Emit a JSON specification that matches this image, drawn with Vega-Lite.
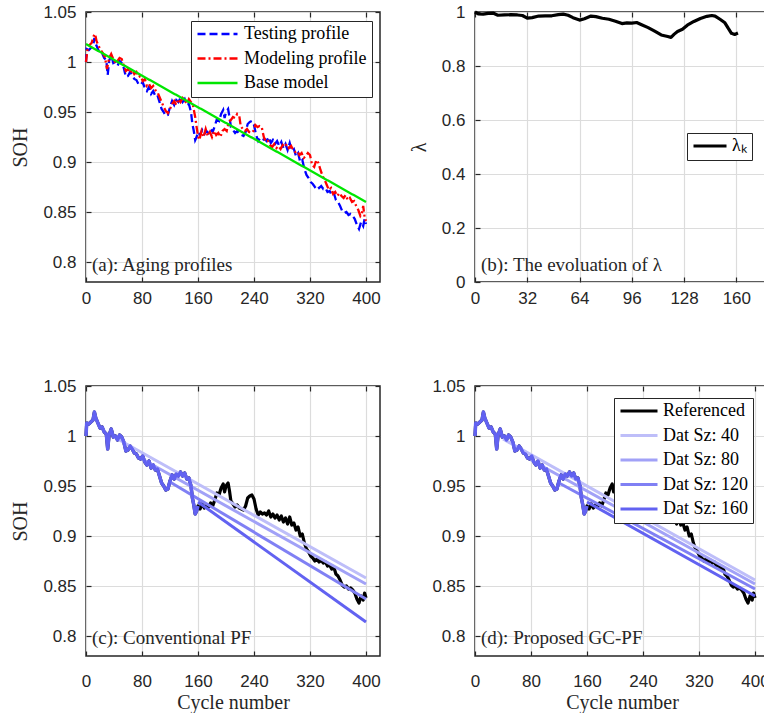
{
"$schema": "https://vega.github.io/schema/vega-lite/v6.json",
"padding": {"left": 10, "top": 2, "right": 0, "bottom": 0},
"background": "white",
"config": {
 "font": "Liberation Serif",
 "view": {"stroke": "#262626", "strokeWidth": 1.5},
 "axis": {"domain": false, "labelFont": "Liberation Sans", "labelFontSize": 17, "labelColor": "#262626", "titleFont": "Liberation Serif", "titleFontSize": 20, "titleFontWeight": "normal", "titleColor": "#262626", "gridColor": "#DCDCDC", "gridWidth": 1.2, "tickColor": "#262626", "tickSize": -5, "tickWidth": 1.2, "labelFlush": false, "labelOverlap": false},
 "axisX": {"labelPadding": 13, "titlePadding": 4},
 "axisY": {"labelPadding": 15, "titlePadding": 12},
 "legend": {"labelFont": "Liberation Serif", "labelFontSize": 18, "labelColor": "#000000", "strokeColor": "#262626", "fillColor": "#FFFFFF", "padding": 5, "rowPadding": 6.5, "clipHeight": 16, "symbolStrokeWidth": 3, "labelLimit": 300, "symbolType": "stroke"}
},
"resolve": {
 "scale": {"color": "independent", "strokeDash": "independent", "strokeWidth": "independent"},
 "legend": {"color": "independent", "strokeDash": "independent", "strokeWidth": "independent"}
},
"datasets": {
 "a": [
  {"cycle":0,"soh":1.000,"series":"Testing profile"},{"cycle":1,"soh":1.013,"series":"Testing profile"},{"cycle":4,"soh":1.012,"series":"Testing profile"},{"cycle":7,"soh":1.014,"series":"Testing profile"},{"cycle":10,"soh":1.016,"series":"Testing profile"},{"cycle":12,"soh":1.024,"series":"Testing profile"},{"cycle":14,"soh":1.018,"series":"Testing profile"},{"cycle":17,"soh":1.013,"series":"Testing profile"},{"cycle":20,"soh":1.008,"series":"Testing profile"},{"cycle":23,"soh":1.009,"series":"Testing profile"},{"cycle":26,"soh":1.004,"series":"Testing profile"},{"cycle":29,"soh":1.002,"series":"Testing profile"},{"cycle":31,"soh":0.987,"series":"Testing profile"},{"cycle":33,"soh":1.001,"series":"Testing profile"},{"cycle":36,"soh":1.007,"series":"Testing profile"},{"cycle":39,"soh":0.999,"series":"Testing profile"},{"cycle":42,"soh":1.000,"series":"Testing profile"},{"cycle":45,"soh":0.996,"series":"Testing profile"},{"cycle":48,"soh":1.001,"series":"Testing profile"},{"cycle":51,"soh":0.999,"series":"Testing profile"},{"cycle":54,"soh":0.994,"series":"Testing profile"},{"cycle":57,"soh":0.985,"series":"Testing profile"},{"cycle":60,"soh":0.986,"series":"Testing profile"},{"cycle":63,"soh":0.990,"series":"Testing profile"},{"cycle":66,"soh":0.987,"series":"Testing profile"},{"cycle":69,"soh":0.983,"series":"Testing profile"},{"cycle":72,"soh":0.982,"series":"Testing profile"},{"cycle":75,"soh":0.978,"series":"Testing profile"},{"cycle":78,"soh":0.977,"series":"Testing profile"},{"cycle":81,"soh":0.980,"series":"Testing profile"},{"cycle":84,"soh":0.974,"series":"Testing profile"},{"cycle":87,"soh":0.971,"series":"Testing profile"},{"cycle":90,"soh":0.975,"series":"Testing profile"},{"cycle":93,"soh":0.968,"series":"Testing profile"},{"cycle":96,"soh":0.971,"series":"Testing profile"},{"cycle":99,"soh":0.966,"series":"Testing profile"},{"cycle":102,"soh":0.967,"series":"Testing profile"},{"cycle":105,"soh":0.960,"series":"Testing profile"},{"cycle":108,"soh":0.953,"series":"Testing profile"},{"cycle":111,"soh":0.950,"series":"Testing profile"},{"cycle":114,"soh":0.946,"series":"Testing profile"},{"cycle":117,"soh":0.947,"series":"Testing profile"},{"cycle":120,"soh":0.955,"series":"Testing profile"},{"cycle":123,"soh":0.961,"series":"Testing profile"},{"cycle":126,"soh":0.957,"series":"Testing profile"},{"cycle":129,"soh":0.962,"series":"Testing profile"},{"cycle":132,"soh":0.960,"series":"Testing profile"},{"cycle":135,"soh":0.964,"series":"Testing profile"},{"cycle":138,"soh":0.960,"series":"Testing profile"},{"cycle":141,"soh":0.963,"series":"Testing profile"},{"cycle":144,"soh":0.957,"series":"Testing profile"},{"cycle":147,"soh":0.958,"series":"Testing profile"},{"cycle":150,"soh":0.950,"series":"Testing profile"},{"cycle":152,"soh":0.938,"series":"Testing profile"},{"cycle":154,"soh":0.931,"series":"Testing profile"},{"cycle":156,"soh":0.922,"series":"Testing profile"},{"cycle":158,"soh":0.925,"series":"Testing profile"},{"cycle":160,"soh":0.930,"series":"Testing profile"},{"cycle":163,"soh":0.927,"series":"Testing profile"},{"cycle":166,"soh":0.932,"series":"Testing profile"},{"cycle":169,"soh":0.928,"series":"Testing profile"},{"cycle":172,"soh":0.931,"series":"Testing profile"},{"cycle":175,"soh":0.929,"series":"Testing profile"},{"cycle":178,"soh":0.933,"series":"Testing profile"},{"cycle":181,"soh":0.930,"series":"Testing profile"},{"cycle":184,"soh":0.936,"series":"Testing profile"},{"cycle":187,"soh":0.943,"series":"Testing profile"},{"cycle":190,"soh":0.941,"series":"Testing profile"},{"cycle":193,"soh":0.948,"series":"Testing profile"},{"cycle":196,"soh":0.952,"series":"Testing profile"},{"cycle":198,"soh":0.944,"series":"Testing profile"},{"cycle":200,"soh":0.950,"series":"Testing profile"},{"cycle":203,"soh":0.953,"series":"Testing profile"},{"cycle":205,"soh":0.945,"series":"Testing profile"},{"cycle":207,"soh":0.935,"series":"Testing profile"},{"cycle":210,"soh":0.932,"series":"Testing profile"},{"cycle":213,"soh":0.929,"series":"Testing profile"},{"cycle":216,"soh":0.931,"series":"Testing profile"},{"cycle":219,"soh":0.928,"series":"Testing profile"},{"cycle":222,"soh":0.927,"series":"Testing profile"},{"cycle":225,"soh":0.926,"series":"Testing profile"},{"cycle":228,"soh":0.930,"series":"Testing profile"},{"cycle":231,"soh":0.938,"series":"Testing profile"},{"cycle":234,"soh":0.940,"series":"Testing profile"},{"cycle":237,"soh":0.941,"series":"Testing profile"},{"cycle":240,"soh":0.937,"series":"Testing profile"},{"cycle":243,"soh":0.927,"series":"Testing profile"},{"cycle":246,"soh":0.921,"series":"Testing profile"},{"cycle":249,"soh":0.924,"series":"Testing profile"},{"cycle":252,"soh":0.922,"series":"Testing profile"},{"cycle":255,"soh":0.923,"series":"Testing profile"},{"cycle":258,"soh":0.921,"series":"Testing profile"},{"cycle":261,"soh":0.925,"series":"Testing profile"},{"cycle":264,"soh":0.919,"series":"Testing profile"},{"cycle":267,"soh":0.922,"series":"Testing profile"},{"cycle":270,"soh":0.918,"series":"Testing profile"},{"cycle":273,"soh":0.921,"series":"Testing profile"},{"cycle":276,"soh":0.916,"series":"Testing profile"},{"cycle":279,"soh":0.920,"series":"Testing profile"},{"cycle":282,"soh":0.914,"series":"Testing profile"},{"cycle":285,"soh":0.918,"series":"Testing profile"},{"cycle":288,"soh":0.912,"series":"Testing profile"},{"cycle":291,"soh":0.919,"series":"Testing profile"},{"cycle":294,"soh":0.911,"series":"Testing profile"},{"cycle":297,"soh":0.913,"series":"Testing profile"},{"cycle":300,"soh":0.906,"series":"Testing profile"},{"cycle":303,"soh":0.909,"series":"Testing profile"},{"cycle":306,"soh":0.900,"series":"Testing profile"},{"cycle":309,"soh":0.902,"series":"Testing profile"},{"cycle":312,"soh":0.893,"series":"Testing profile"},{"cycle":315,"soh":0.887,"series":"Testing profile"},{"cycle":318,"soh":0.884,"series":"Testing profile"},{"cycle":321,"soh":0.880,"series":"Testing profile"},{"cycle":324,"soh":0.878,"series":"Testing profile"},{"cycle":327,"soh":0.875,"series":"Testing profile"},{"cycle":330,"soh":0.877,"series":"Testing profile"},{"cycle":333,"soh":0.874,"series":"Testing profile"},{"cycle":336,"soh":0.876,"series":"Testing profile"},{"cycle":339,"soh":0.873,"series":"Testing profile"},{"cycle":342,"soh":0.874,"series":"Testing profile"},{"cycle":345,"soh":0.870,"series":"Testing profile"},{"cycle":348,"soh":0.871,"series":"Testing profile"},{"cycle":351,"soh":0.867,"series":"Testing profile"},{"cycle":354,"soh":0.869,"series":"Testing profile"},{"cycle":357,"soh":0.862,"series":"Testing profile"},{"cycle":360,"soh":0.860,"series":"Testing profile"},{"cycle":363,"soh":0.856,"series":"Testing profile"},{"cycle":366,"soh":0.851,"series":"Testing profile"},{"cycle":369,"soh":0.849,"series":"Testing profile"},{"cycle":372,"soh":0.850,"series":"Testing profile"},{"cycle":375,"soh":0.847,"series":"Testing profile"},{"cycle":378,"soh":0.848,"series":"Testing profile"},{"cycle":381,"soh":0.846,"series":"Testing profile"},{"cycle":384,"soh":0.843,"series":"Testing profile"},{"cycle":387,"soh":0.837,"series":"Testing profile"},{"cycle":390,"soh":0.833,"series":"Testing profile"},{"cycle":393,"soh":0.840,"series":"Testing profile"},{"cycle":396,"soh":0.836,"series":"Testing profile"},{"cycle":398,"soh":0.843,"series":"Testing profile"},{"cycle":400,"soh":0.838,"series":"Testing profile"},
  {"cycle":0,"soh":1.000,"series":"Modeling profile"},{"cycle":2,"soh":1.012,"series":"Modeling profile"},{"cycle":5,"soh":1.017,"series":"Modeling profile"},{"cycle":8,"soh":1.019,"series":"Modeling profile"},{"cycle":11,"soh":1.026,"series":"Modeling profile"},{"cycle":13,"soh":1.028,"series":"Modeling profile"},{"cycle":15,"soh":1.021,"series":"Modeling profile"},{"cycle":18,"soh":1.016,"series":"Modeling profile"},{"cycle":21,"soh":1.012,"series":"Modeling profile"},{"cycle":24,"soh":1.009,"series":"Modeling profile"},{"cycle":27,"soh":1.005,"series":"Modeling profile"},{"cycle":30,"soh":0.993,"series":"Modeling profile"},{"cycle":33,"soh":1.004,"series":"Modeling profile"},{"cycle":36,"soh":1.008,"series":"Modeling profile"},{"cycle":39,"soh":1.003,"series":"Modeling profile"},{"cycle":42,"soh":0.999,"series":"Modeling profile"},{"cycle":45,"soh":1.001,"series":"Modeling profile"},{"cycle":48,"soh":1.004,"series":"Modeling profile"},{"cycle":51,"soh":1.003,"series":"Modeling profile"},{"cycle":54,"soh":0.996,"series":"Modeling profile"},{"cycle":57,"soh":0.991,"series":"Modeling profile"},{"cycle":60,"soh":0.993,"series":"Modeling profile"},{"cycle":63,"soh":0.989,"series":"Modeling profile"},{"cycle":66,"soh":0.992,"series":"Modeling profile"},{"cycle":69,"soh":0.988,"series":"Modeling profile"},{"cycle":72,"soh":0.990,"series":"Modeling profile"},{"cycle":75,"soh":0.985,"series":"Modeling profile"},{"cycle":78,"soh":0.986,"series":"Modeling profile"},{"cycle":81,"soh":0.981,"series":"Modeling profile"},{"cycle":84,"soh":0.983,"series":"Modeling profile"},{"cycle":87,"soh":0.976,"series":"Modeling profile"},{"cycle":90,"soh":0.978,"series":"Modeling profile"},{"cycle":93,"soh":0.974,"series":"Modeling profile"},{"cycle":96,"soh":0.976,"series":"Modeling profile"},{"cycle":99,"soh":0.972,"series":"Modeling profile"},{"cycle":102,"soh":0.970,"series":"Modeling profile"},{"cycle":105,"soh":0.965,"series":"Modeling profile"},{"cycle":108,"soh":0.960,"series":"Modeling profile"},{"cycle":111,"soh":0.955,"series":"Modeling profile"},{"cycle":114,"soh":0.951,"series":"Modeling profile"},{"cycle":117,"soh":0.949,"series":"Modeling profile"},{"cycle":120,"soh":0.953,"series":"Modeling profile"},{"cycle":123,"soh":0.958,"series":"Modeling profile"},{"cycle":126,"soh":0.961,"series":"Modeling profile"},{"cycle":129,"soh":0.957,"series":"Modeling profile"},{"cycle":132,"soh":0.963,"series":"Modeling profile"},{"cycle":135,"soh":0.960,"series":"Modeling profile"},{"cycle":138,"soh":0.964,"series":"Modeling profile"},{"cycle":141,"soh":0.962,"series":"Modeling profile"},{"cycle":144,"soh":0.958,"series":"Modeling profile"},{"cycle":147,"soh":0.963,"series":"Modeling profile"},{"cycle":150,"soh":0.960,"series":"Modeling profile"},{"cycle":153,"soh":0.956,"series":"Modeling profile"},{"cycle":156,"soh":0.945,"series":"Modeling profile"},{"cycle":158,"soh":0.935,"series":"Modeling profile"},{"cycle":160,"soh":0.926,"series":"Modeling profile"},{"cycle":162,"soh":0.922,"series":"Modeling profile"},{"cycle":165,"soh":0.931,"series":"Modeling profile"},{"cycle":168,"soh":0.925,"series":"Modeling profile"},{"cycle":171,"soh":0.933,"series":"Modeling profile"},{"cycle":174,"soh":0.926,"series":"Modeling profile"},{"cycle":177,"soh":0.930,"series":"Modeling profile"},{"cycle":180,"soh":0.925,"series":"Modeling profile"},{"cycle":183,"soh":0.931,"series":"Modeling profile"},{"cycle":186,"soh":0.927,"series":"Modeling profile"},{"cycle":189,"soh":0.929,"series":"Modeling profile"},{"cycle":192,"soh":0.925,"series":"Modeling profile"},{"cycle":195,"soh":0.931,"series":"Modeling profile"},{"cycle":198,"soh":0.933,"series":"Modeling profile"},{"cycle":201,"soh":0.931,"series":"Modeling profile"},{"cycle":204,"soh":0.940,"series":"Modeling profile"},{"cycle":207,"soh":0.942,"series":"Modeling profile"},{"cycle":210,"soh":0.945,"series":"Modeling profile"},{"cycle":213,"soh":0.944,"series":"Modeling profile"},{"cycle":216,"soh":0.948,"series":"Modeling profile"},{"cycle":219,"soh":0.946,"series":"Modeling profile"},{"cycle":221,"soh":0.936,"series":"Modeling profile"},{"cycle":224,"soh":0.933,"series":"Modeling profile"},{"cycle":227,"soh":0.931,"series":"Modeling profile"},{"cycle":230,"soh":0.933,"series":"Modeling profile"},{"cycle":233,"soh":0.930,"series":"Modeling profile"},{"cycle":236,"soh":0.929,"series":"Modeling profile"},{"cycle":239,"soh":0.931,"series":"Modeling profile"},{"cycle":242,"soh":0.937,"series":"Modeling profile"},{"cycle":245,"soh":0.935,"series":"Modeling profile"},{"cycle":248,"soh":0.936,"series":"Modeling profile"},{"cycle":251,"soh":0.935,"series":"Modeling profile"},{"cycle":254,"soh":0.925,"series":"Modeling profile"},{"cycle":257,"soh":0.920,"series":"Modeling profile"},{"cycle":260,"soh":0.921,"series":"Modeling profile"},{"cycle":263,"soh":0.917,"series":"Modeling profile"},{"cycle":266,"soh":0.915,"series":"Modeling profile"},{"cycle":269,"soh":0.918,"series":"Modeling profile"},{"cycle":272,"soh":0.914,"series":"Modeling profile"},{"cycle":275,"soh":0.916,"series":"Modeling profile"},{"cycle":278,"soh":0.913,"series":"Modeling profile"},{"cycle":281,"soh":0.917,"series":"Modeling profile"},{"cycle":284,"soh":0.915,"series":"Modeling profile"},{"cycle":287,"soh":0.918,"series":"Modeling profile"},{"cycle":290,"soh":0.914,"series":"Modeling profile"},{"cycle":293,"soh":0.916,"series":"Modeling profile"},{"cycle":296,"soh":0.912,"series":"Modeling profile"},{"cycle":299,"soh":0.910,"series":"Modeling profile"},{"cycle":302,"soh":0.911,"series":"Modeling profile"},{"cycle":305,"soh":0.907,"series":"Modeling profile"},{"cycle":308,"soh":0.909,"series":"Modeling profile"},{"cycle":311,"soh":0.904,"series":"Modeling profile"},{"cycle":314,"soh":0.906,"series":"Modeling profile"},{"cycle":317,"soh":0.909,"series":"Modeling profile"},{"cycle":320,"soh":0.907,"series":"Modeling profile"},{"cycle":323,"soh":0.897,"series":"Modeling profile"},{"cycle":326,"soh":0.895,"series":"Modeling profile"},{"cycle":329,"soh":0.902,"series":"Modeling profile"},{"cycle":332,"soh":0.899,"series":"Modeling profile"},{"cycle":335,"soh":0.892,"series":"Modeling profile"},{"cycle":338,"soh":0.886,"series":"Modeling profile"},{"cycle":341,"soh":0.882,"series":"Modeling profile"},{"cycle":344,"soh":0.877,"series":"Modeling profile"},{"cycle":347,"soh":0.872,"series":"Modeling profile"},{"cycle":350,"soh":0.874,"series":"Modeling profile"},{"cycle":353,"soh":0.868,"series":"Modeling profile"},{"cycle":356,"soh":0.870,"series":"Modeling profile"},{"cycle":359,"soh":0.866,"series":"Modeling profile"},{"cycle":362,"soh":0.869,"series":"Modeling profile"},{"cycle":365,"soh":0.866,"series":"Modeling profile"},{"cycle":368,"soh":0.864,"series":"Modeling profile"},{"cycle":371,"soh":0.867,"series":"Modeling profile"},{"cycle":374,"soh":0.862,"series":"Modeling profile"},{"cycle":377,"soh":0.864,"series":"Modeling profile"},{"cycle":380,"soh":0.860,"series":"Modeling profile"},{"cycle":383,"soh":0.861,"series":"Modeling profile"},{"cycle":386,"soh":0.856,"series":"Modeling profile"},{"cycle":389,"soh":0.852,"series":"Modeling profile"},{"cycle":392,"soh":0.846,"series":"Modeling profile"},{"cycle":394,"soh":0.848,"series":"Modeling profile"},{"cycle":396,"soh":0.856,"series":"Modeling profile"},{"cycle":398,"soh":0.845,"series":"Modeling profile"},{"cycle":400,"soh":0.841,"series":"Modeling profile"},
  {"cycle":0,"soh":1.018,"series":"Base model"},{"cycle":400,"soh":0.860,"series":"Base model"}
 ],
 "lam": [
  {"step":0,"lambda":1.0,"series":"λₖ"},{"step":2,"lambda":0.993,"series":"λₖ"},{"step":5,"lambda":0.992,"series":"λₖ"},{"step":8,"lambda":0.995,"series":"λₖ"},{"step":11,"lambda":0.996,"series":"λₖ"},{"step":14,"lambda":0.988,"series":"λₖ"},{"step":18,"lambda":0.989,"series":"λₖ"},{"step":22,"lambda":0.990,"series":"λₖ"},{"step":26,"lambda":0.989,"series":"λₖ"},{"step":29,"lambda":0.987,"series":"λₖ"},{"step":32,"lambda":0.977,"series":"λₖ"},{"step":35,"lambda":0.979,"series":"λₖ"},{"step":39,"lambda":0.985,"series":"λₖ"},{"step":43,"lambda":0.986,"series":"λₖ"},{"step":47,"lambda":0.986,"series":"λₖ"},{"step":51,"lambda":0.990,"series":"λₖ"},{"step":54,"lambda":0.992,"series":"λₖ"},{"step":57,"lambda":0.988,"series":"λₖ"},{"step":60,"lambda":0.979,"series":"λₖ"},{"step":64,"lambda":0.970,"series":"λₖ"},{"step":67,"lambda":0.975,"series":"λₖ"},{"step":71,"lambda":0.985,"series":"λₖ"},{"step":74,"lambda":0.983,"series":"λₖ"},{"step":78,"lambda":0.977,"series":"λₖ"},{"step":82,"lambda":0.973,"series":"λₖ"},{"step":86,"lambda":0.966,"series":"λₖ"},{"step":90,"lambda":0.957,"series":"λₖ"},{"step":93,"lambda":0.960,"series":"λₖ"},{"step":96,"lambda":0.959,"series":"λₖ"},{"step":99,"lambda":0.961,"series":"λₖ"},{"step":102,"lambda":0.953,"series":"λₖ"},{"step":106,"lambda":0.942,"series":"λₖ"},{"step":110,"lambda":0.929,"series":"λₖ"},{"step":114,"lambda":0.915,"series":"λₖ"},{"step":118,"lambda":0.909,"series":"λₖ"},{"step":120,"lambda":0.906,"series":"λₖ"},{"step":122,"lambda":0.918,"series":"λₖ"},{"step":124,"lambda":0.928,"series":"λₖ"},{"step":127,"lambda":0.936,"series":"λₖ"},{"step":130,"lambda":0.951,"series":"λₖ"},{"step":134,"lambda":0.965,"series":"λₖ"},{"step":138,"lambda":0.976,"series":"λₖ"},{"step":142,"lambda":0.984,"series":"λₖ"},{"step":145,"lambda":0.987,"series":"λₖ"},{"step":147,"lambda":0.985,"series":"λₖ"},{"step":150,"lambda":0.973,"series":"λₖ"},{"step":153,"lambda":0.960,"series":"λₖ"},{"step":155,"lambda":0.940,"series":"λₖ"},{"step":157,"lambda":0.921,"series":"λₖ"},{"step":159,"lambda":0.917,"series":"λₖ"},{"step":161,"lambda":0.922,"series":"λₖ"}
 ],
 "ref": [
  {"cycle":0,"soh":1.000,"series":"Referenced"},{"cycle":1,"soh":1.013,"series":"Referenced"},{"cycle":4,"soh":1.012,"series":"Referenced"},{"cycle":7,"soh":1.014,"series":"Referenced"},{"cycle":10,"soh":1.016,"series":"Referenced"},{"cycle":12,"soh":1.024,"series":"Referenced"},{"cycle":14,"soh":1.018,"series":"Referenced"},{"cycle":17,"soh":1.013,"series":"Referenced"},{"cycle":20,"soh":1.008,"series":"Referenced"},{"cycle":23,"soh":1.009,"series":"Referenced"},{"cycle":26,"soh":1.004,"series":"Referenced"},{"cycle":29,"soh":1.002,"series":"Referenced"},{"cycle":31,"soh":0.987,"series":"Referenced"},{"cycle":33,"soh":1.001,"series":"Referenced"},{"cycle":36,"soh":1.007,"series":"Referenced"},{"cycle":39,"soh":0.999,"series":"Referenced"},{"cycle":42,"soh":1.000,"series":"Referenced"},{"cycle":45,"soh":0.996,"series":"Referenced"},{"cycle":48,"soh":1.001,"series":"Referenced"},{"cycle":51,"soh":0.999,"series":"Referenced"},{"cycle":54,"soh":0.994,"series":"Referenced"},{"cycle":57,"soh":0.985,"series":"Referenced"},{"cycle":60,"soh":0.986,"series":"Referenced"},{"cycle":63,"soh":0.990,"series":"Referenced"},{"cycle":66,"soh":0.987,"series":"Referenced"},{"cycle":69,"soh":0.983,"series":"Referenced"},{"cycle":72,"soh":0.982,"series":"Referenced"},{"cycle":75,"soh":0.978,"series":"Referenced"},{"cycle":78,"soh":0.977,"series":"Referenced"},{"cycle":81,"soh":0.980,"series":"Referenced"},{"cycle":84,"soh":0.974,"series":"Referenced"},{"cycle":87,"soh":0.971,"series":"Referenced"},{"cycle":90,"soh":0.975,"series":"Referenced"},{"cycle":93,"soh":0.968,"series":"Referenced"},{"cycle":96,"soh":0.971,"series":"Referenced"},{"cycle":99,"soh":0.966,"series":"Referenced"},{"cycle":102,"soh":0.967,"series":"Referenced"},{"cycle":105,"soh":0.960,"series":"Referenced"},{"cycle":108,"soh":0.953,"series":"Referenced"},{"cycle":111,"soh":0.950,"series":"Referenced"},{"cycle":114,"soh":0.946,"series":"Referenced"},{"cycle":117,"soh":0.947,"series":"Referenced"},{"cycle":120,"soh":0.955,"series":"Referenced"},{"cycle":123,"soh":0.961,"series":"Referenced"},{"cycle":126,"soh":0.957,"series":"Referenced"},{"cycle":129,"soh":0.962,"series":"Referenced"},{"cycle":132,"soh":0.960,"series":"Referenced"},{"cycle":135,"soh":0.964,"series":"Referenced"},{"cycle":138,"soh":0.960,"series":"Referenced"},{"cycle":141,"soh":0.963,"series":"Referenced"},{"cycle":144,"soh":0.957,"series":"Referenced"},{"cycle":147,"soh":0.958,"series":"Referenced"},{"cycle":150,"soh":0.950,"series":"Referenced"},{"cycle":152,"soh":0.938,"series":"Referenced"},{"cycle":154,"soh":0.931,"series":"Referenced"},{"cycle":156,"soh":0.922,"series":"Referenced"},{"cycle":158,"soh":0.925,"series":"Referenced"},{"cycle":160,"soh":0.930,"series":"Referenced"},{"cycle":163,"soh":0.927,"series":"Referenced"},{"cycle":166,"soh":0.932,"series":"Referenced"},{"cycle":169,"soh":0.928,"series":"Referenced"},{"cycle":172,"soh":0.931,"series":"Referenced"},{"cycle":175,"soh":0.929,"series":"Referenced"},{"cycle":178,"soh":0.933,"series":"Referenced"},{"cycle":181,"soh":0.930,"series":"Referenced"},{"cycle":184,"soh":0.936,"series":"Referenced"},{"cycle":187,"soh":0.943,"series":"Referenced"},{"cycle":190,"soh":0.941,"series":"Referenced"},{"cycle":193,"soh":0.948,"series":"Referenced"},{"cycle":196,"soh":0.952,"series":"Referenced"},{"cycle":198,"soh":0.944,"series":"Referenced"},{"cycle":200,"soh":0.950,"series":"Referenced"},{"cycle":203,"soh":0.953,"series":"Referenced"},{"cycle":205,"soh":0.945,"series":"Referenced"},{"cycle":207,"soh":0.935,"series":"Referenced"},{"cycle":210,"soh":0.932,"series":"Referenced"},{"cycle":213,"soh":0.929,"series":"Referenced"},{"cycle":216,"soh":0.931,"series":"Referenced"},{"cycle":219,"soh":0.928,"series":"Referenced"},{"cycle":222,"soh":0.927,"series":"Referenced"},{"cycle":225,"soh":0.926,"series":"Referenced"},{"cycle":228,"soh":0.930,"series":"Referenced"},{"cycle":231,"soh":0.938,"series":"Referenced"},{"cycle":234,"soh":0.940,"series":"Referenced"},{"cycle":237,"soh":0.941,"series":"Referenced"},{"cycle":240,"soh":0.937,"series":"Referenced"},{"cycle":243,"soh":0.927,"series":"Referenced"},{"cycle":246,"soh":0.921,"series":"Referenced"},{"cycle":249,"soh":0.924,"series":"Referenced"},{"cycle":252,"soh":0.922,"series":"Referenced"},{"cycle":255,"soh":0.923,"series":"Referenced"},{"cycle":258,"soh":0.921,"series":"Referenced"},{"cycle":261,"soh":0.925,"series":"Referenced"},{"cycle":264,"soh":0.919,"series":"Referenced"},{"cycle":267,"soh":0.922,"series":"Referenced"},{"cycle":270,"soh":0.918,"series":"Referenced"},{"cycle":273,"soh":0.921,"series":"Referenced"},{"cycle":276,"soh":0.916,"series":"Referenced"},{"cycle":279,"soh":0.920,"series":"Referenced"},{"cycle":282,"soh":0.914,"series":"Referenced"},{"cycle":285,"soh":0.918,"series":"Referenced"},{"cycle":288,"soh":0.912,"series":"Referenced"},{"cycle":291,"soh":0.919,"series":"Referenced"},{"cycle":294,"soh":0.911,"series":"Referenced"},{"cycle":297,"soh":0.913,"series":"Referenced"},{"cycle":300,"soh":0.906,"series":"Referenced"},{"cycle":303,"soh":0.909,"series":"Referenced"},{"cycle":306,"soh":0.900,"series":"Referenced"},{"cycle":309,"soh":0.902,"series":"Referenced"},{"cycle":312,"soh":0.893,"series":"Referenced"},{"cycle":315,"soh":0.887,"series":"Referenced"},{"cycle":318,"soh":0.884,"series":"Referenced"},{"cycle":321,"soh":0.880,"series":"Referenced"},{"cycle":324,"soh":0.878,"series":"Referenced"},{"cycle":327,"soh":0.875,"series":"Referenced"},{"cycle":330,"soh":0.877,"series":"Referenced"},{"cycle":333,"soh":0.874,"series":"Referenced"},{"cycle":336,"soh":0.876,"series":"Referenced"},{"cycle":339,"soh":0.873,"series":"Referenced"},{"cycle":342,"soh":0.874,"series":"Referenced"},{"cycle":345,"soh":0.870,"series":"Referenced"},{"cycle":348,"soh":0.871,"series":"Referenced"},{"cycle":351,"soh":0.867,"series":"Referenced"},{"cycle":354,"soh":0.869,"series":"Referenced"},{"cycle":357,"soh":0.862,"series":"Referenced"},{"cycle":360,"soh":0.860,"series":"Referenced"},{"cycle":363,"soh":0.856,"series":"Referenced"},{"cycle":366,"soh":0.851,"series":"Referenced"},{"cycle":369,"soh":0.849,"series":"Referenced"},{"cycle":372,"soh":0.850,"series":"Referenced"},{"cycle":375,"soh":0.847,"series":"Referenced"},{"cycle":378,"soh":0.848,"series":"Referenced"},{"cycle":381,"soh":0.846,"series":"Referenced"},{"cycle":384,"soh":0.843,"series":"Referenced"},{"cycle":387,"soh":0.837,"series":"Referenced"},{"cycle":390,"soh":0.833,"series":"Referenced"},{"cycle":393,"soh":0.840,"series":"Referenced"},{"cycle":396,"soh":0.836,"series":"Referenced"},{"cycle":398,"soh":0.843,"series":"Referenced"},{"cycle":400,"soh":0.838,"series":"Referenced"}
 ],
 "predc": [
  {"cycle":40,"soh":0.999,"series":"Dat Sz: 40"},{"cycle":400,"soh":0.858,"series":"Dat Sz: 40"},
  {"cycle":80,"soh":0.977,"series":"Dat Sz: 80"},{"cycle":400,"soh":0.852,"series":"Dat Sz: 80"},
  {"cycle":120,"soh":0.954,"series":"Dat Sz: 120"},{"cycle":400,"soh":0.837,"series":"Dat Sz: 120"},
  {"cycle":160,"soh":0.934,"series":"Dat Sz: 160"},{"cycle":400,"soh":0.814,"series":"Dat Sz: 160"}
 ],
 "predd": [
  {"cycle":40,"soh":0.997,"series":"Dat Sz: 40"},{"cycle":400,"soh":0.856,"series":"Dat Sz: 40"},
  {"cycle":80,"soh":0.976,"series":"Dat Sz: 80"},{"cycle":400,"soh":0.852,"series":"Dat Sz: 80"},
  {"cycle":120,"soh":0.953,"series":"Dat Sz: 120"},{"cycle":400,"soh":0.847,"series":"Dat Sz: 120"},
  {"cycle":160,"soh":0.934,"series":"Dat Sz: 160"},{"cycle":400,"soh":0.840,"series":"Dat Sz: 160"}
 ]
},
"columns": 2,
"spacing": {"row": 104, "column": 95},
"bounds": "flush",
"concat": [
 {
  "width": 294, "height": 270,
  "resolve": {"axis": {"x": "independent", "y": "independent"}},
  "layer": [
   {"data": {"name": "a"}, "mark": {"type": "line", "strokeCap": "butt"},
    "encoding": {
     "x": {"field": "cycle", "type": "quantitative", "scale": {"domain": [0, 420], "nice": false, "zero": false}, "axis": {"values": [0, 80, 160, 240, 320, 400], "title": null}},
     "y": {"field": "soh", "type": "quantitative", "scale": {"domain": [0.78, 1.05], "nice": false, "zero": false}, "axis": {"values": [0.8, 0.85, 0.9, 0.95, 1, 1.05], "format": "~g", "title": "SOH", "titleFont": "Liberation Serif"}},
     "color": {"field": "series", "type": "nominal", "scale": {"domain": ["Testing profile", "Modeling profile", "Base model"], "range": ["#0000FF", "#FF0000", "#00E600"]}, "legend": {"orient": "none", "legendX": 105, "legendY": 9, "title": null, "symbolSize": 1600, "labelOffset": 5, "labelFont": "Liberation Serif", "labelFontSize": 18}},
     "strokeDash": {"field": "series", "type": "nominal", "scale": {"domain": ["Testing profile", "Modeling profile", "Base model"], "range": [[8, 4], [8, 3, 2, 3], [1, 0]]}, "legend": {"orient": "none", "legendX": 105, "legendY": 9, "title": null, "symbolSize": 1600, "labelOffset": 5, "labelFont": "Liberation Serif", "labelFontSize": 18}},
     "strokeWidth": {"field": "series", "type": "nominal", "scale": {"domain": ["Testing profile", "Modeling profile", "Base model"], "range": [2.3, 2.3, 3.5]}, "legend": {"orient": "none", "legendX": 105, "legendY": 9, "title": null, "symbolSize": 1600, "labelOffset": 5, "labelFont": "Liberation Serif", "labelFontSize": 18}}
    }},
   {"data": {"values": [{}]}, "mark": {"type": "text", "align": "left", "baseline": "middle", "font": "Liberation Serif", "fontSize": 19, "color": "#262626"},
    "encoding": {
     "x": {"datum": 8.5, "type": "quantitative", "axis": {"orient": "top", "values": [0, 80, 160, 240, 320, 400], "labels": false, "grid": false, "title": null}},
     "y": {"datum": 0.797, "type": "quantitative", "axis": {"orient": "right", "values": [0.8, 0.85, 0.9, 0.95, 1, 1.05], "labels": false, "grid": false, "title": null}},
     "text": {"value": "(a): Aging profiles"}
    }}
  ]
 },
 {
  "width": 294, "height": 270,
  "resolve": {"axis": {"x": "independent", "y": "independent"}},
  "layer": [
   {"data": {"name": "lam"}, "mark": {"type": "line", "strokeWidth": 3.2, "strokeJoin": "round"},
    "encoding": {
     "x": {"field": "step", "type": "quantitative", "scale": {"domain": [0, 180], "nice": false, "zero": false}, "axis": {"values": [0, 32, 64, 96, 128, 160], "title": null}},
     "y": {"field": "lambda", "type": "quantitative", "scale": {"domain": [0, 1], "nice": false}, "axis": {"values": [0, 0.2, 0.4, 0.6, 0.8, 1], "format": "~g", "title": "λ", "titleFont": "Liberation Serif"}},
     "color": {"field": "series", "type": "nominal", "scale": {"domain": ["λₖ"], "range": ["#000000"]}, "legend": {"orient": "none", "legendX": 212, "legendY": 121, "title": null, "symbolSize": 1089, "labelOffset": 4, "labelFont": "Liberation Serif", "labelFontSize": 18}}
    }},
   {"data": {"values": [{}]}, "mark": {"type": "text", "align": "left", "baseline": "middle", "font": "Liberation Serif", "fontSize": 19, "color": "#262626"},
    "encoding": {
     "x": {"datum": 3.7, "type": "quantitative", "axis": {"orient": "top", "values": [0, 32, 64, 96, 128, 160], "labels": false, "grid": false, "title": null}},
     "y": {"datum": 0.063, "type": "quantitative", "axis": {"orient": "right", "values": [0, 0.2, 0.4, 0.6, 0.8, 1], "labels": false, "grid": false, "title": null}},
     "text": {"value": "(b): The evoluation of λ"}
    }}
  ]
 },
 {
  "width": 294, "height": 270,
  "resolve": {"axis": {"x": "independent", "y": "independent"}},
  "layer": [
   {"data": {"name": "ref"}, "mark": {"type": "line", "strokeWidth": 3.2, "strokeJoin": "round"},
    "encoding": {
     "x": {"field": "cycle", "type": "quantitative", "scale": {"domain": [0, 420], "nice": false, "zero": false}, "axis": {"values": [0, 80, 160, 240, 320, 400], "title": "Cycle number", "titleFont": "Liberation Serif", "labelPadding": 22, "titlePadding": 3}},
     "y": {"field": "soh", "type": "quantitative", "scale": {"domain": [0.78, 1.05], "nice": false, "zero": false}, "axis": {"values": [0.8, 0.85, 0.9, 0.95, 1, 1.05], "format": "~g", "title": "SOH", "titleFont": "Liberation Serif"}},
     "color": {"field": "series", "type": "nominal", "scale": {"domain": ["Referenced", "Dat Sz: 40", "Dat Sz: 80", "Dat Sz: 120", "Dat Sz: 160"], "range": ["#000000", "#BEBEF9", "#A1A1F7", "#8080F4", "#6262F1"]}, "legend": null}
    }},
   {"data": {"name": "predc"}, "mark": {"type": "line", "strokeWidth": 3},
    "encoding": {
     "x": {"field": "cycle", "type": "quantitative", "axis": null},
     "y": {"field": "soh", "type": "quantitative", "axis": null},
     "color": {"field": "series", "type": "nominal", "scale": {"domain": ["Referenced", "Dat Sz: 40", "Dat Sz: 80", "Dat Sz: 120", "Dat Sz: 160"], "range": ["#000000", "#BEBEF9", "#A1A1F7", "#8080F4", "#6262F1"]}, "legend": null}
    }},
   {"data": {"name": "ref"}, "transform": [{"filter": "datum.cycle <= 160"}], "mark": {"type": "line", "strokeWidth": 3.5, "color": "#6262F1", "strokeJoin": "round"},
    "encoding": {
     "x": {"field": "cycle", "type": "quantitative", "axis": null},
     "y": {"field": "soh", "type": "quantitative", "axis": null}
    }},
   {"data": {"values": [{}]}, "mark": {"type": "text", "align": "left", "baseline": "middle", "font": "Liberation Serif", "fontSize": 19, "color": "#262626"},
    "encoding": {
     "x": {"datum": 8.5, "type": "quantitative", "axis": {"orient": "top", "values": [0, 80, 160, 240, 320, 400], "labels": false, "grid": false, "title": null}},
     "y": {"datum": 0.798, "type": "quantitative", "axis": {"orient": "right", "values": [0.8, 0.85, 0.9, 0.95, 1, 1.05], "labels": false, "grid": false, "title": null}},
     "text": {"value": "(c): Conventional PF"}
    }}
  ]
 },
 {
  "width": 294, "height": 270,
  "resolve": {"axis": {"x": "independent", "y": "independent"}},
  "layer": [
   {"data": {"name": "ref"}, "mark": {"type": "line", "strokeWidth": 3.2, "strokeJoin": "round"},
    "encoding": {
     "x": {"field": "cycle", "type": "quantitative", "scale": {"domain": [0, 420], "nice": false, "zero": false}, "axis": {"values": [0, 80, 160, 240, 320, 400], "title": "Cycle number", "titleFont": "Liberation Serif", "labelPadding": 22, "titlePadding": 3}},
     "y": {"field": "soh", "type": "quantitative", "scale": {"domain": [0.78, 1.05], "nice": false, "zero": false}, "axis": {"values": [0.8, 0.85, 0.9, 0.95, 1, 1.05], "format": "~g", "title": null}},
     "color": {"field": "series", "type": "nominal", "scale": {"domain": ["Referenced", "Dat Sz: 40", "Dat Sz: 80", "Dat Sz: 120", "Dat Sz: 160"], "range": ["#000000", "#BEBEF9", "#A1A1F7", "#8080F4", "#6262F1"]}, "legend": {"orient": "none", "legendX": 139, "legendY": 12, "title": null, "symbolSize": 1369, "labelOffset": 4, "labelFont": "Liberation Serif", "labelFontSize": 18}}
    }},
   {"data": {"name": "predd"}, "mark": {"type": "line", "strokeWidth": 3},
    "encoding": {
     "x": {"field": "cycle", "type": "quantitative", "axis": null},
     "y": {"field": "soh", "type": "quantitative", "axis": null},
     "color": {"field": "series", "type": "nominal", "scale": {"domain": ["Referenced", "Dat Sz: 40", "Dat Sz: 80", "Dat Sz: 120", "Dat Sz: 160"], "range": ["#000000", "#BEBEF9", "#A1A1F7", "#8080F4", "#6262F1"]}, "legend": {"orient": "none", "legendX": 139, "legendY": 12, "title": null, "symbolSize": 1369, "labelOffset": 4, "labelFont": "Liberation Serif", "labelFontSize": 18}}
    }},
   {"data": {"name": "ref"}, "transform": [{"filter": "datum.cycle <= 160"}], "mark": {"type": "line", "strokeWidth": 3.5, "color": "#6262F1", "strokeJoin": "round"},
    "encoding": {
     "x": {"field": "cycle", "type": "quantitative", "axis": null},
     "y": {"field": "soh", "type": "quantitative", "axis": null}
    }},
   {"data": {"values": [{}]}, "mark": {"type": "text", "align": "left", "baseline": "middle", "font": "Liberation Serif", "fontSize": 19, "color": "#262626"},
    "encoding": {
     "x": {"datum": 8.5, "type": "quantitative", "axis": {"orient": "top", "values": [0, 80, 160, 240, 320, 400], "labels": false, "grid": false, "title": null}},
     "y": {"datum": 0.798, "type": "quantitative", "axis": {"orient": "right", "values": [0.8, 0.85, 0.9, 0.95, 1, 1.05], "labels": false, "grid": false, "title": null}},
     "text": {"value": "(d): Proposed GC-PF"}
    }}
  ]
 }
]
}
